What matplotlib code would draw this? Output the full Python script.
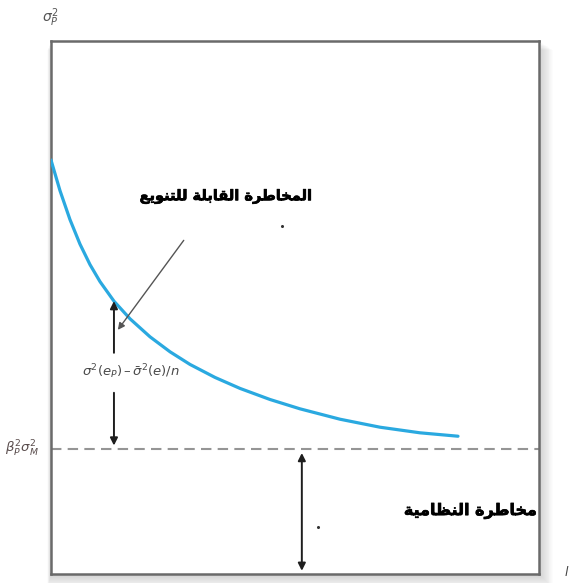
import matplotlib
matplotlib.use("Agg")
import matplotlib.pyplot as plt
from matplotlib.patches import Rectangle
import matplotlib.patheffects as pe

plt.rcParams['mathtext.fontset'] = 'dejavusans'

# Diversification curve: total portfolio variance vs number of securities
n_securities = [0, 1.84, 3.89, 5.94, 7.99, 10.04, 12.91, 16.19, 20.29, 24.39,
                28.48, 33.61, 38.73, 44.88, 51.02, 59.22, 67.42, 75.61, 83.40]
portfolio_var = [77.67, 71.93, 66.49, 61.89, 58.05, 54.86, 51.18, 47.88, 44.50, 41.69,
                 39.32, 36.88, 34.82, 32.74, 30.99, 29.04, 27.54, 26.49, 25.85]
systematic_var = 23.5

label_diversifiable = "المخاطرة القابلة للتنويع"
label_systematic = "مخاطرة النظامية"
label_idio = r"$\sigma^2(e_P)\,\endash\,\bar{\sigma}^2(e)/n$"
label_y = r"$\sigma_P^2$"
label_beta = r"$\beta_P^2\sigma_M^2$"

stray_x = [54.7, 47.3]
stray_y = [8.8, 65.3]

# --- minimal Arabic contextual shaping (presentation forms, visual order) ---
FORMS = {  # isolated, final, initial, medial
    'ا': ('\uFE8D', '\uFE8E', None, None),
    'ر': ('\uFEAD', '\uFEAE', None, None),
    'ة': ('\uFE93', '\uFE94', None, None),
    'و': ('\uFEED', '\uFEEE', None, None),
    'ل': ('\uFEDD', '\uFEDE', '\uFEDF', '\uFEE0'),
    'م': ('\uFEE1', '\uFEE2', '\uFEE3', '\uFEE4'),
    'خ': ('\uFEA5', '\uFEA6', '\uFEA7', '\uFEA8'),
    'ط': ('\uFEC1', '\uFEC2', '\uFEC3', '\uFEC4'),
    'ظ': ('\uFEC5', '\uFEC6', '\uFEC7', '\uFEC8'),
    'ق': ('\uFED5', '\uFED6', '\uFED7', '\uFED8'),
    'ب': ('\uFE8F', '\uFE90', '\uFE91', '\uFE92'),
    'ن': ('\uFEE5', '\uFEE6', '\uFEE7', '\uFEE8'),
    'ي': ('\uFEF1', '\uFEF2', '\uFEF3', '\uFEF4'),
    'ع': ('\uFEC9', '\uFECA', '\uFECB', '\uFECC'),
    'ت': ('\uFE95', '\uFE96', '\uFE97', '\uFE98'),
}


def shape_arabic(text):
    out = []
    for i, ch in enumerate(text):
        if ch not in FORMS:
            out.append(ch)
            continue
        prev = text[i - 1] if i > 0 else None
        nxt = text[i + 1] if i + 1 < len(text) else None
        dual = FORMS[ch][2] is not None
        join_prev = prev in FORMS and FORMS[prev][2] is not None
        join_next = dual and nxt in FORMS
        iso, fin, ini, med = FORMS[ch]
        if join_prev and join_next:
            out.append(med)
        elif join_prev:
            out.append(fin)
        elif join_next:
            out.append(ini)
        else:
            out.append(iso)
    return ''.join(reversed(out))


W, H = 570, 583
fig = plt.figure(figsize=(W / 100, H / 100), dpi=100)
fig.patch.set_facecolor('white')

ax_left, ax_bottom, ax_w, ax_h = 51 / W, 9 / H, 488 / W, 533 / H

# soft drop shadow around the frame
for i in range(1, 16):
    fig.patches.append(Rectangle((ax_left - i * 0.25 / W, ax_bottom - i / H),
                                 ax_w + i * 1.2 / W, ax_h + i * 0.4 / H,
                                 transform=fig.transFigure, facecolor='black',
                                 edgecolor='none', alpha=0.012, zorder=-1))

ax = fig.add_axes([ax_left, ax_bottom, ax_w, ax_h])
ax.set_facecolor('white')
ax.set_xlim(0, 100)
ax.set_ylim(0, 100)
ax.set_xticks([])
ax.set_yticks([])
for s in ax.spines.values():
    s.set_color('#6a6a6a')
    s.set_linewidth(1.8)

# curve and systematic-risk floor
ax.plot(n_securities, portfolio_var, color='#2aa9e0', lw=2.3,
        solid_capstyle='round', solid_joinstyle='round', zorder=3)
ax.axhline(systematic_var, color='#959595', lw=1.5, dashes=(5, 3), zorder=2)

arrow_kw = dict(arrowstyle='-|>', color='#1e1e1e', lw=1.4, mutation_scale=11,
                shrinkA=0, shrinkB=0)

# idiosyncratic-risk double arrow split around its label
ax.annotate('', xy=(12.9, 51.2), xytext=(12.9, 41.5), arrowprops=arrow_kw)
ax.annotate('', xy=(12.9, systematic_var + 0.6), xytext=(12.9, 34.0), arrowprops=arrow_kw)
ax.text(16.4, 37.9, label_idio, ha='center', va='center', fontsize=9.5, color='#4a4a4a')

# pointer from the diversifiable-risk label to the curve
ax.annotate('', xy=(13.7, 45.8), xytext=(27.2, 62.6),
            arrowprops=dict(arrowstyle='-|>', color='#555555', lw=1.0,
                            mutation_scale=10, shrinkA=0, shrinkB=0))

# systematic-risk double arrow
ax.annotate('', xy=(51.4, systematic_var - 0.8), xytext=(51.4, 0.6),
            arrowprops=dict(arrowstyle='<|-|>', color='#1e1e1e', lw=1.4,
                            mutation_scale=11, shrinkA=0, shrinkB=0))

heavy = [pe.withStroke(linewidth=0.5, foreground='black')]
ax.text(35.9, 70.8, shape_arabic(label_diversifiable), ha='center', va='center',
        fontsize=10.5, fontweight='bold', color='black', family='DejaVu Sans',
        path_effects=heavy)
ax.text(86.0, 11.8, shape_arabic(label_systematic), ha='center', va='center',
        fontsize=11.5, fontweight='bold', color='black', family='DejaVu Sans',
        path_effects=heavy)

ax.plot(stray_x, stray_y, 'o', ms=1.2, color='#333333', zorder=4)

fig.text(50 / W, 1 - 18 / H, label_y, ha='center', va='center', fontsize=10, color='#555555')
fig.text(22 / W, 1 - 449 / H, label_beta, ha='center', va='center', fontsize=9.5, color='#5a4d4d')
fig.text(566 / W, 1 - 572 / H, 'l', ha='center', va='center', fontsize=9,
         style='italic', color='#444444')

fig.savefig('out.png', dpi=100, facecolor='white')
